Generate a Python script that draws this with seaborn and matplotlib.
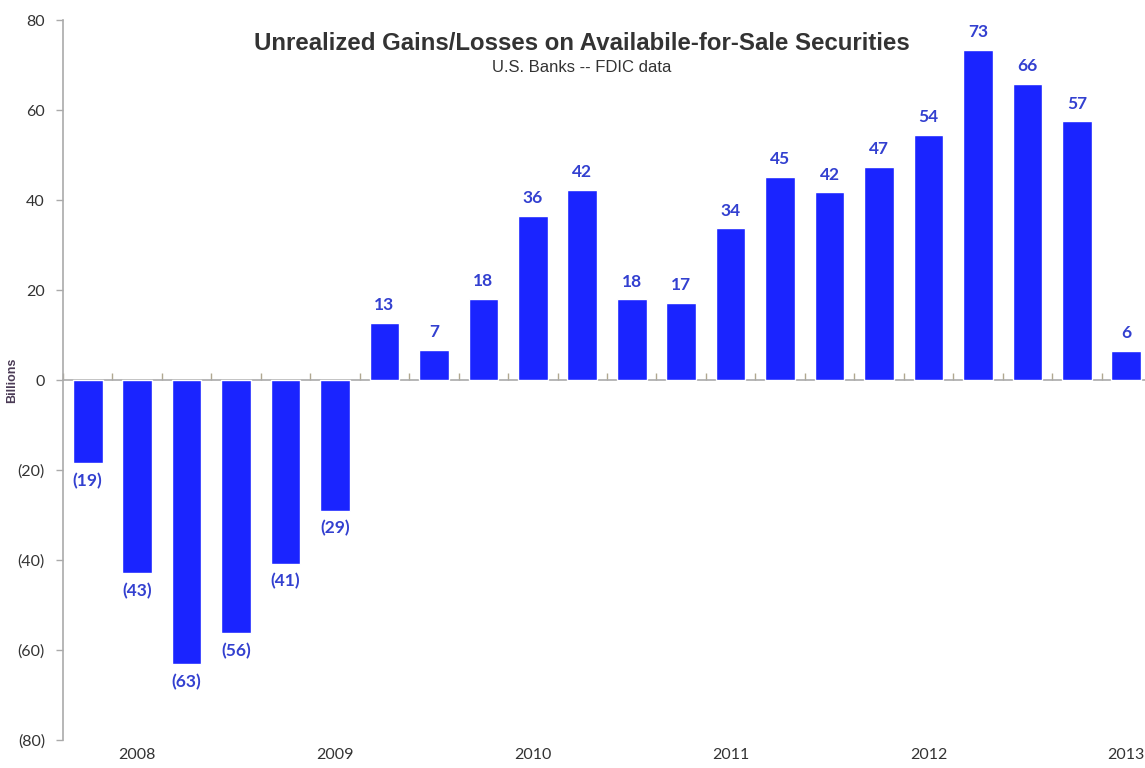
import matplotlib
matplotlib.use("Agg")
import matplotlib.pyplot as plt
import seaborn as sns
import pandas as pd
from matplotlib.ticker import FuncFormatter

# --- dados (bilhoes USD) ---
trimestres = ["2007Q4", "2008Q1", "2008Q2", "2008Q3", "2008Q4", "2009Q1", "2009Q2",
              "2009Q3", "2009Q4", "2010Q1", "2010Q2", "2010Q3", "2010Q4", "2011Q1",
              "2011Q2", "2011Q3", "2011Q4", "2012Q1", "2012Q2", "2012Q3", "2012Q4",
              "2013Q1"]
valores = [-18.5, -42.9, -63.2, -56.3, -40.8, -29.0, 12.7, 6.7, 18.1, 36.4, 42.3,
           17.9, 17.2, 33.7, 45.2, 41.7, 47.4, 54.4, 73.4, 65.8, 57.5, 6.4]
rotulos = ["(19)", "(43)", "(63)", "(56)", "(41)", "(29)", "13", "7", "18", "36", "42",
           "18", "17", "34", "45", "42", "47", "54", "73", "66", "57", "6"]
anos = ["2008", "2009", "2010", "2011", "2012", "2013"]
anos_trim = ["2008Q1", "2009Q1", "2010Q1", "2011Q1", "2012Q1", "2013Q1"]

AZUL = "#1a24ff"
AZUL_TXT = "#3340d0"
CINZA = "#333333"
LINHA = "#aaaaaa"

df = pd.DataFrame({"trimestre": trimestres, "valor": valores})

sns.set_theme(style="white")
plt.rcParams["font.family"] = ["Lato", "DejaVu Sans"]

fig = plt.figure(figsize=(11.45, 7.68), dpi=100)
ax = fig.add_axes([63 / 1145, 28 / 768, 1088 / 1145, 720 / 768])

sns.barplot(data=df, x="trimestre", y="valor", color=AZUL, saturation=1,
            width=0.6, ax=ax, zorder=3)

# rotulos em cima/embaixo das barras
ax.bar_label(ax.containers[0], labels=rotulos, padding=7, color=AZUL_TXT,
             fontsize=12.5, fontweight="bold")

ax.set_ylim(-80, 80)
ax.set_xlim(-0.5, len(trimestres) - 0.5)
ax.set_yticks(range(-80, 81, 20))
ax.yaxis.set_major_formatter(FuncFormatter(lambda v, p: f"({abs(int(v))})" if v < 0 else f"{int(v)}"))
ax.tick_params(axis="y", left=True, length=5, width=1, color=LINHA,
               labelsize=11.5, labelcolor=CINZA, pad=8)

# anos embaixo do grafico
ax.set_xticks([trimestres.index(a) for a in anos_trim])
ax.set_xticklabels(anos)
ax.tick_params(axis="x", bottom=False, length=0, labelsize=11.5, labelcolor=CINZA, pad=6)
ax.set_xlabel("")

ax.set_ylabel("Billions", fontsize=9, fontweight="bold", color="#4a3a55",
              family=["Liberation Sans"])
ax.yaxis.set_label_coords(-0.041, 0.5)

for s in ["top", "right", "bottom"]:
    ax.spines[s].set_visible(False)
ax.spines["left"].set_color(LINHA)
ax.spines["left"].set_linewidth(1.2)

# eixo no zero com marcas entre as barras
eixo0 = ax.secondary_xaxis(0.5)
eixo0.set_xticks([i - 0.5 for i in range(len(trimestres) + 1)])
eixo0.set_xticklabels([])
eixo0.tick_params(axis="x", direction="out", length=5, width=1, color="#b0a890")
for s in eixo0.spines.values():
    s.set_color(LINHA)
    s.set_linewidth(1.2)

fig.text(582 / 1145, 1 - 44 / 768, "Unrealized Gains/Losses on Availabile-for-Sale Securities",
         ha="center", va="center", fontsize=17.3, fontweight="bold", color=CINZA,
         family=["Liberation Sans"])
fig.text(582 / 1145, 1 - 68 / 768, "U.S. Banks -- FDIC data", ha="center", va="center",
         fontsize=12, color="#333333", family=["Liberation Sans Narrow", "Liberation Sans"])

fig.savefig("out.png", dpi=100)
